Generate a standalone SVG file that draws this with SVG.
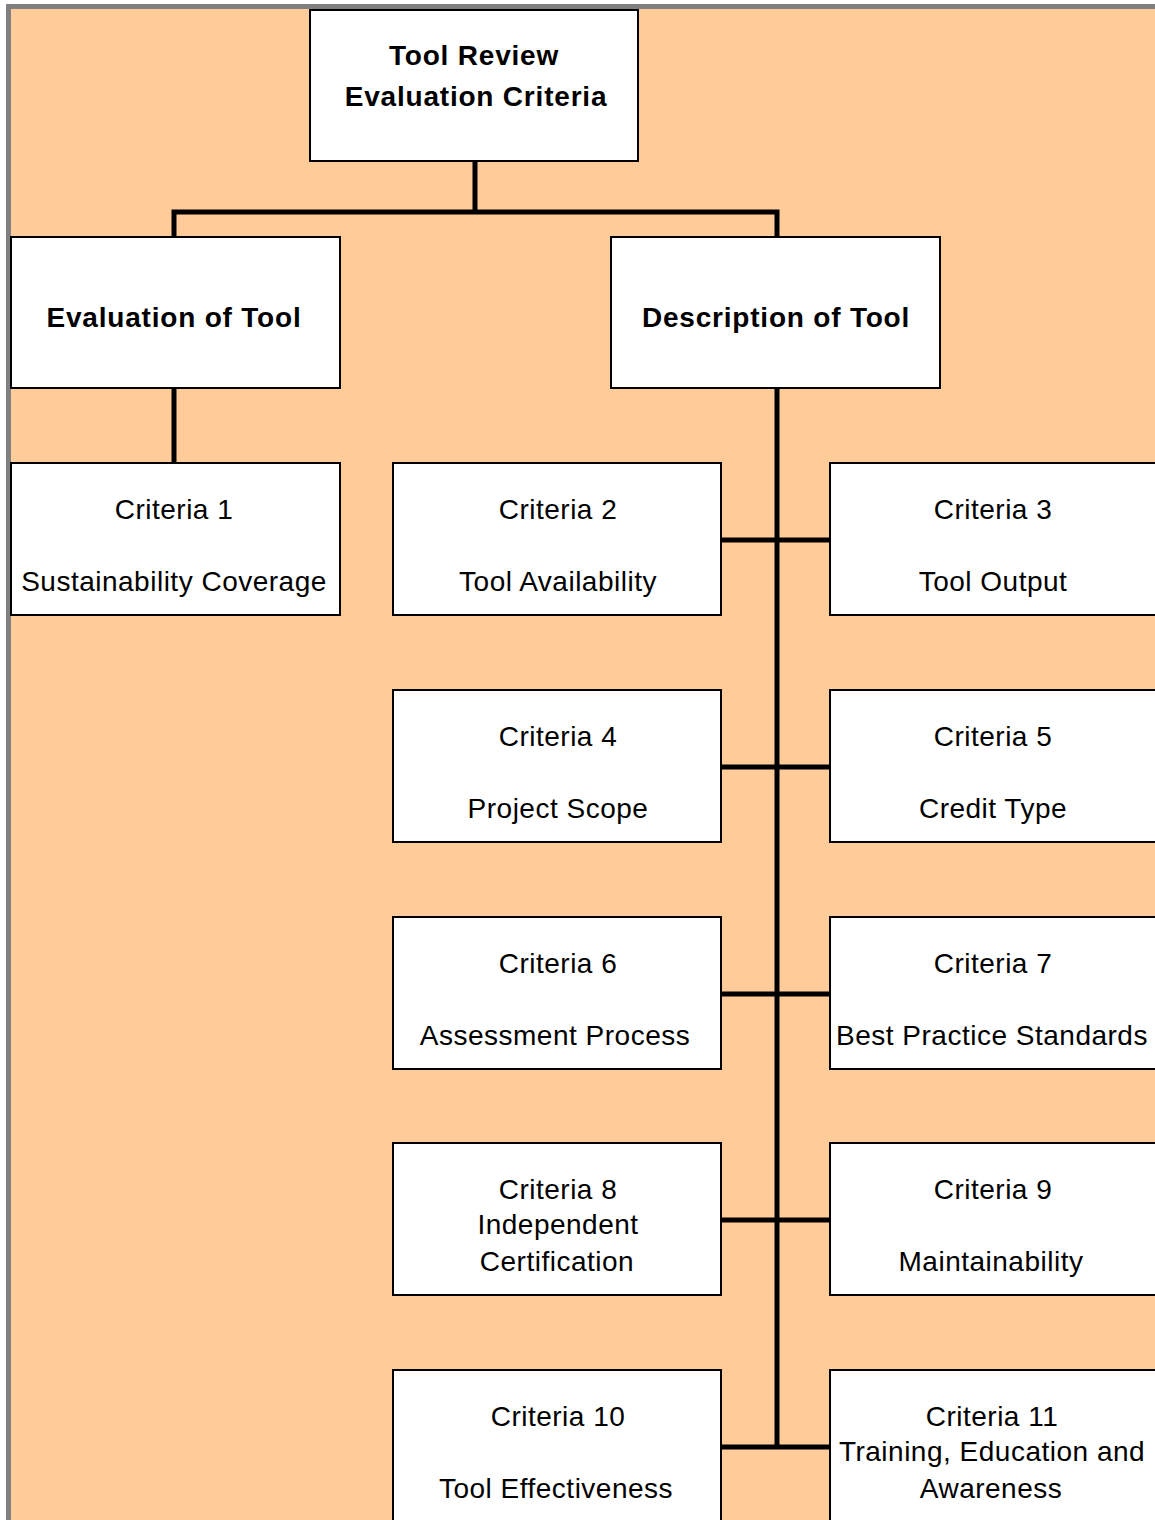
<svg xmlns="http://www.w3.org/2000/svg" width="1155" height="1520" viewBox="0 0 1155 1520">
  <style>
    .box { fill: #ffffff; stroke: #000000; stroke-width: 2; }
    .wire { stroke: #000000; stroke-width: 5; fill: none; stroke-linecap: butt; }
    .t { font-family: "Liberation Sans", Arial, sans-serif; font-size: 28px; fill: #000000; text-anchor: middle; letter-spacing: 0.5px; }
    .b { font-family: "Liberation Sans", Arial, sans-serif; font-size: 28px; font-weight: bold; fill: #000000; text-anchor: middle; letter-spacing: 0.8px; }
  </style>

  <!-- page frame and background -->
  <rect x="0" y="0" width="1155" height="1520" fill="#ffffff"/>
  <rect x="6" y="4" width="1149" height="1516" fill="#808080"/>
  <rect x="11" y="9" width="1144" height="1511" fill="#ffcb99"/>

  <!-- connectors -->
  <g id="connectors">
    <path class="wire" d="M475 161 V212 M174 236 V212 H777 V236"/>
    <path class="wire" d="M174 388 V463"/>
    <path class="wire" d="M777 388 V1447"/>
    <path class="wire" d="M721 540 H830 M721 767 H830 M721 994 H830 M721 1220 H830 M721 1447 H830"/>
  </g>

  <!-- root -->
  <g id="root">
    <rect class="box" x="310" y="10" width="328" height="151"/>
    <text class="b" x="474" y="65">Tool Review</text>
    <text class="b" x="476" y="106">Evaluation Criteria</text>
  </g>

  <!-- second level -->
  <g id="evaluation">
    <rect class="box" x="11" y="237" width="329" height="151"/>
    <text class="b" x="174" y="327">Evaluation of Tool</text>
  </g>
  <g id="description">
    <rect class="box" x="611" y="237" width="329" height="151"/>
    <text class="b" x="776" y="327">Description of Tool</text>
  </g>

  <!-- criteria -->
  <g id="criteria1">
    <rect class="box" x="11" y="463" width="329" height="152"/>
    <text class="t" x="174" y="519">Criteria 1</text>
    <text class="t" x="174" y="591">Sustainability  Coverage</text>
  </g>
  <g id="criteria2">
    <rect class="box" x="393" y="463" width="328" height="152"/>
    <text class="t" x="558" y="519">Criteria 2</text>
    <text class="t" x="558" y="591">Tool Availability</text>
  </g>
  <g id="criteria3">
    <rect class="box" x="830" y="463" width="330" height="152"/>
    <text class="t" x="993" y="519">Criteria 3</text>
    <text class="t" x="993" y="591">Tool Output</text>
  </g>
  <g id="criteria4">
    <rect class="box" x="393" y="690" width="328" height="152"/>
    <text class="t" x="558" y="746">Criteria 4</text>
    <text class="t" x="558" y="818">Project Scope</text>
  </g>
  <g id="criteria5">
    <rect class="box" x="830" y="690" width="330" height="152"/>
    <text class="t" x="993" y="746">Criteria 5</text>
    <text class="t" x="993" y="818">Credit Type</text>
  </g>
  <g id="criteria6">
    <rect class="box" x="393" y="917" width="328" height="152"/>
    <text class="t" x="558" y="973">Criteria 6</text>
    <text class="t" x="555" y="1045">Assessment Process</text>
  </g>
  <g id="criteria7">
    <rect class="box" x="830" y="917" width="330" height="152"/>
    <text class="t" x="993" y="973">Criteria 7</text>
    <text class="t" x="992" y="1045">Best Practice Standards</text>
  </g>
  <g id="criteria8">
    <rect class="box" x="393" y="1143" width="328" height="152"/>
    <text class="t" x="558" y="1199">Criteria 8</text>
    <text class="t" x="558" y="1234">Independent</text>
    <text class="t" x="557" y="1271">Certification</text>
  </g>
  <g id="criteria9">
    <rect class="box" x="830" y="1143" width="330" height="152"/>
    <text class="t" x="993" y="1199">Criteria 9</text>
    <text class="t" x="991" y="1271">Maintainability</text>
  </g>
  <g id="criteria10">
    <rect class="box" x="393" y="1370" width="328" height="160"/>
    <text class="t" x="558" y="1426">Criteria 10</text>
    <text class="t" x="556" y="1498">Tool Effectiveness</text>
  </g>
  <g id="criteria11">
    <rect class="box" x="830" y="1370" width="330" height="160"/>
    <text class="t" x="992" y="1426">Criteria 11</text>
    <text class="t" x="992" y="1461">Training, Education and</text>
    <text class="t" x="991" y="1498">Awareness</text>
  </g>
</svg>
